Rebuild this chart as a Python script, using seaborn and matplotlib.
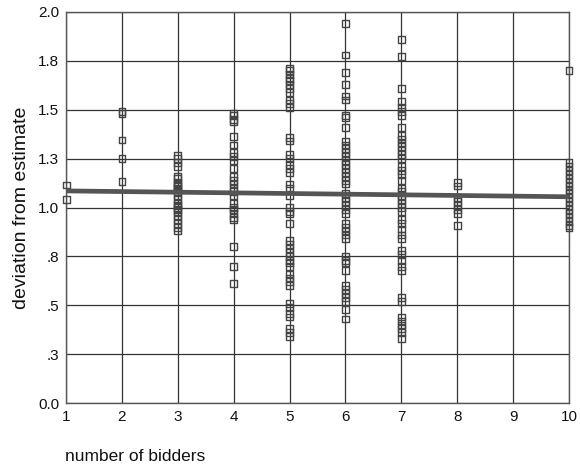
import numpy as np
import pandas as pd
import matplotlib
import matplotlib.pyplot as plt
import seaborn as sns

matplotlib.use('Agg')

# deviation values, grouped by number of bidders
dev_1 = [1.115, 1.04]
dev_2 = [1.49, 1.48, 1.345, 1.25, 1.135]
dev_3 = [1.265, 1.25, 1.23, 1.21, 1.16, 1.15, 1.13, 1.12, 1.11, 1.10, 1.09, 1.08,
         1.06, 1.04, 1.02, 1.01, 1.00, 0.99, 0.98, 0.96, 0.94, 0.92, 0.90, 0.88]
dev_4 = [1.48, 1.47, 1.45, 1.44, 1.365, 1.32, 1.28, 1.26, 1.24, 1.20, 1.16, 1.14,
         1.12, 1.10, 1.08, 1.06, 1.02, 1.00, 0.99, 0.97, 0.95, 0.94, 0.80, 0.70, 0.61]
dev_5 = [1.71, 1.70, 1.68, 1.66, 1.65, 1.63, 1.61, 1.59, 1.55, 1.53, 1.51, 1.36,
         1.34, 1.27, 1.25, 1.22, 1.20, 1.18, 1.12, 1.10, 1.06, 1.00, 0.98, 0.97,
         0.92, 0.83, 0.81, 0.79, 0.77, 0.75, 0.73, 0.72, 0.70, 0.66, 0.64, 0.62,
         0.60, 0.51, 0.49, 0.46, 0.44, 0.38, 0.36, 0.34]
dev_6 = [1.94, 1.78, 1.69, 1.63, 1.57, 1.55, 1.47, 1.46, 1.41, 1.34, 1.32, 1.30,
         1.28, 1.26, 1.24, 1.22, 1.20, 1.18, 1.16, 1.14, 1.12, 1.07, 1.05, 1.03,
         1.01, 0.99, 0.97, 0.92, 0.90, 0.88, 0.86, 0.84, 0.75, 0.73, 0.72, 0.68,
         0.60, 0.58, 0.56, 0.54, 0.52, 0.48, 0.43]
dev_7 = [1.86, 1.77, 1.61, 1.54, 1.51, 1.49, 1.47, 1.41, 1.37, 1.35, 1.33, 1.31,
         1.29, 1.27, 1.25, 1.21, 1.19, 1.17, 1.14, 1.10, 1.08, 1.06, 1.04, 1.02,
         1.00, 0.98, 0.94, 0.92, 0.89, 0.86, 0.84, 0.78, 0.76, 0.73, 0.70, 0.68,
         0.54, 0.52, 0.44, 0.42, 0.40, 0.38, 0.36, 0.33]
dev_8 = [1.13, 1.11, 1.05, 1.03, 1.01, 0.99, 0.97, 0.91]
dev_10 = [1.70, 1.23, 1.21, 1.19, 1.17, 1.15, 1.13, 1.11, 1.09, 1.07, 1.05, 1.03,
          1.01, 0.99, 0.97, 0.95, 0.93, 0.91, 0.90]

bidders = [1, 2, 3, 4, 5, 6, 7, 8, 10]
groups = [dev_1, dev_2, dev_3, dev_4, dev_5, dev_6, dev_7, dev_8, dev_10]

# fitted regression line as printed in the chart
fit_x = [1, 10]
fit_y = [1.085, 1.055]

y_ticks = [0.0, 0.25, 0.5, 0.75, 1.0, 1.25, 1.5, 1.75, 2.0]
y_labels = ["0.0", ".3", ".5", ".8", "1.0", "1.3", "1.5", "1.8", "2.0"]
x_ticks = list(range(1, 11))

df = pd.DataFrame({
    'bidders': np.concatenate([[b] * len(g) for b, g in zip(bidders, groups)]),
    'deviation': np.concatenate(groups),
})

sns.set_style('white')
plt.rcParams['font.family'] = ['Liberation Sans', 'DejaVu Sans']

fig = plt.figure(figsize=(5.8, 4.76), dpi=100)
ax = fig.add_axes([0.114, 0.153, 0.867, 0.822])

sns.scatterplot(
    data=df, x='bidders', y='deviation', ax=ax,
    marker='s', s=24, facecolors='none', edgecolor='#444444', linewidth=1.0,
    clip_on=False, zorder=3,
)
sns.lineplot(x=fit_x, y=fit_y, ax=ax, color='#555555', linewidth=3.4, zorder=4)

ax.set_xlim(1, 10)
ax.set_ylim(0, 2.0)
ax.set_xticks(x_ticks)
ax.set_xticklabels([str(v) for v in x_ticks], fontsize=11, color='#111111')
ax.set_yticks(y_ticks)
ax.set_yticklabels(y_labels, fontsize=11, color='#111111')
ax.grid(True, color='#333333', linewidth=0.9)
ax.set_axisbelow(True)
ax.tick_params(axis='both', direction='out', length=3, width=2, color='#333333', pad=2)

for side, spine in ax.spines.items():
    spine.set_visible(True)
    spine.set_color('#555555')
    spine.set_linewidth(1.0)

ax.set_xlabel('')
ax.set_ylabel('deviation from estimate', fontsize=14, labelpad=6, color='#111111')
fig.text(0.112, 0.025, 'number of bidders', fontsize=12.5, ha='left', va='bottom', color='#111111')

plt.savefig('out.png', dpi=100)
plt.close()
